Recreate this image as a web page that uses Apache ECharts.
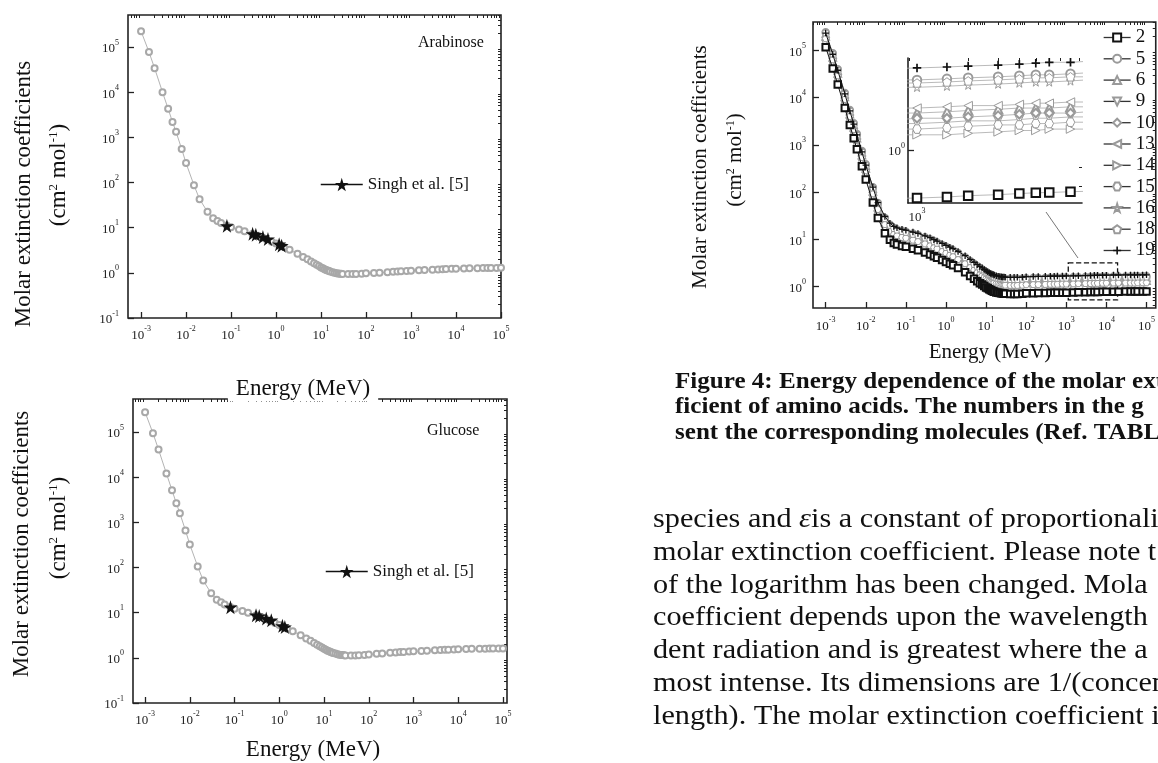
<!DOCTYPE html>
<html><head><meta charset="utf-8">
<script src="https://cdn.jsdelivr.net/npm/echarts@6/dist/echarts.min.js"></script>
<style>html,body{margin:0;padding:0;background:#fff}#c{width:1158px;height:763px}</style>
</head><body><div id="c"></div>
<script>
// ---------------- DATA ----------------
const energies = [0.001,0.0015,0.002,0.003,0.004,0.005,0.006,0.008,
  0.01,0.015,0.02,0.03,0.04,0.05,0.06,0.08,
  0.1,0.15,0.2,0.3,0.4,0.5,0.6,0.8,
  1,1.25,1.5,2,3,4,5,6,7,8,9,
  10,11,12,13,14,15,16,18,20,22,24,26,28,30,40,50,60,80,
  100,150,200,300,400,500,600,800,
  1000,1500,2000,3000,4000,5000,6000,8000,
  10000,15000,20000,30000,40000,50000,60000,80000,
  100000];

const arabinose = [224000,77600,33900,10000,4270,2190,1320,550,
  269,87.1,42.7,22.4,16.2,14.1,12.6,11.2,
  10.2,9.12,8.32,7.24,6.61,6.03,5.62,4.90,
  4.47,4.07,3.72,3.24,2.63,2.24,2.00,1.78,1.62,1.51,1.41,
  1.32,1.26,1.20,1.16,1.12,1.10,1.07,1.035,1.00,0.977,0.966,0.955,0.948,0.944,0.938,0.940,0.946,0.959,
  0.973,0.995,1.01,1.035,1.05,1.07,1.08,1.10,
  1.11,1.135,1.15,1.175,1.19,1.20,1.21,1.225,
  1.235,1.25,1.26,1.27,1.275,1.28,1.28,1.285,
  1.29];

const glucose = [275000,94000,40700,12000,5120,2630,1580,660,
  323,105,51.2,26.9,19.4,16.9,15.1,13.4,
  12.2,10.9,9.98,8.69,7.93,7.24,6.74,5.88,
  5.36,4.88,4.46,3.89,3.16,2.69,2.40,2.14,1.94,1.81,1.69,
  1.58,1.51,1.44,1.39,1.34,1.32,1.28,1.24,1.20,1.17,1.16,1.15,1.14,1.13,1.13,1.13,1.14,1.15,
  1.19,1.23,1.25,1.29,1.31,1.34,1.35,1.38,
  1.39,1.42,1.44,1.47,1.49,1.50,1.51,1.53,
  1.54,1.56,1.58,1.59,1.59,1.60,1.60,1.61,
  1.61];

const singhEnergies = [0.081,0.302,0.356,0.511,0.662,1.173,1.332];
const singhArabinose = [11.0,7.3,7.0,6.2,5.6,4.3,4.0];
const singhGlucose = [13.2,8.8,8.4,7.4,6.8,5.1,4.8];

const aminoNames = ['2','5','6','9','10','13','14','15','16','18','19'];

const amino02 = [117000,41700,19100,6030,2630,1380,813,355,
  186,60.3,28.2,13.5,9.77,8.32,7.76,7.24,
  6.92,6.31,5.89,5.25,4.79,4.37,4.07,3.63,
  3.31,3.02,2.82,2.45,2.00,1.66,1.45,1.29,1.17,1.10,1.02,
  0.955,0.912,0.871,0.841,0.813,0.794,0.776,0.750,0.733,0.724,0.716,0.708,0.703,0.700,0.692,0.692,0.695,0.700,
  0.716,0.721,0.724,0.729,0.733,0.735,0.736,0.740,
  0.741,0.746,0.752,0.757,0.762,0.766,0.767,0.771,
  0.773,0.776,0.778,0.780,0.782,0.782,0.783,0.783,
  0.785];
const amino05 = [245000,87200,39900,12600,5500,2880,1700,742,
  389,126,58.9,28.2,20.4,17.4,16.2,15.1,
  14.5,13.2,12.3,11.0,10.0,9.13,8.51,7.59,
  6.92,6.31,5.89,5.12,4.18,3.47,3.03,2.70,2.45,2.30,2.13,
  2.00,1.91,1.82,1.76,1.70,1.66,1.62,1.57,1.53,1.51,1.50,1.48,1.47,1.46,1.45,1.45,1.45,1.46,
  1.50,1.51,1.51,1.52,1.53,1.54,1.54,1.55,
  1.55,1.56,1.57,1.58,1.59,1.60,1.60,1.61,
  1.62,1.62,1.63,1.63,1.63,1.63,1.64,1.64,
  1.64];
const amino06 = [199000,70900,32500,10300,4470,2350,1380,604,
  316,103,47.9,23.0,16.6,14.1,13.2,12.3,
  11.8,10.7,10.0,8.93,8.14,7.43,6.92,6.17,
  5.63,5.13,4.79,4.17,3.40,2.82,2.47,2.19,1.99,1.87,1.73,
  1.62,1.55,1.48,1.43,1.38,1.35,1.32,1.28,1.25,1.23,1.22,1.20,1.20,1.19,1.18,1.18,1.18,1.19,
  1.22,1.23,1.23,1.24,1.25,1.25,1.25,1.26,
  1.26,1.27,1.28,1.29,1.30,1.30,1.30,1.31,
  1.31,1.32,1.32,1.33,1.33,1.33,1.33,1.33,
  1.33];
const amino09 = [186000,66300,30400,9590,4180,2190,1290,564,
  296,95.9,44.8,21.5,15.5,13.2,12.3,11.5,
  11.0,10.0,9.37,8.35,7.62,6.95,6.47,5.77,
  5.26,4.80,4.48,3.90,3.18,2.64,2.31,2.05,1.86,1.75,1.62,
  1.52,1.45,1.38,1.34,1.29,1.26,1.23,1.19,1.17,1.15,1.14,1.13,1.12,1.11,1.10,1.10,1.11,1.11,
  1.14,1.15,1.15,1.16,1.17,1.17,1.17,1.18,
  1.18,1.19,1.20,1.20,1.21,1.22,1.22,1.23,
  1.23,1.23,1.24,1.24,1.24,1.24,1.24,1.24,
  1.25];
const amino10 = [192000,68400,31300,9890,4310,2260,1330,582,
  305,98.9,46.2,22.1,16.0,13.6,12.7,11.9,
  11.3,10.3,9.66,8.61,7.86,7.17,6.67,5.95,
  5.43,4.95,4.62,4.02,3.28,2.72,2.38,2.12,1.92,1.80,1.67,
  1.57,1.50,1.43,1.38,1.33,1.30,1.27,1.23,1.20,1.19,1.17,1.16,1.15,1.15,1.13,1.13,1.14,1.15,
  1.17,1.18,1.19,1.20,1.20,1.21,1.21,1.21,
  1.22,1.22,1.23,1.24,1.25,1.26,1.26,1.26,
  1.27,1.27,1.28,1.28,1.28,1.28,1.28,1.28,
  1.29];
const amino13 = [205000,73000,33400,10600,4600,2420,1420,621,
  326,106,49.4,23.6,17.1,14.6,13.6,12.7,
  12.1,11.0,10.3,9.19,8.38,7.65,7.12,6.35,
  5.79,5.29,4.94,4.29,3.50,2.91,2.54,2.26,2.05,1.93,1.79,
  1.67,1.60,1.52,1.47,1.42,1.39,1.36,1.31,1.28,1.27,1.25,1.24,1.23,1.23,1.21,1.21,1.22,1.23,
  1.25,1.26,1.27,1.28,1.28,1.29,1.29,1.30,
  1.30,1.31,1.32,1.32,1.33,1.34,1.34,1.35,
  1.35,1.36,1.36,1.37,1.37,1.37,1.37,1.37,
  1.37];
const amino14 = [173000,61700,28300,8920,3890,2040,1200,525,
  275,89.2,41.7,20.0,14.5,12.3,11.5,10.7,
  10.2,9.34,8.72,7.77,7.09,6.47,6.02,5.37,
  4.90,4.47,4.17,3.63,2.96,2.46,2.15,1.91,1.73,1.63,1.51,
  1.41,1.35,1.29,1.24,1.20,1.18,1.15,1.11,1.08,1.07,1.06,1.05,1.04,1.04,1.02,1.02,1.03,1.04,
  1.06,1.07,1.07,1.08,1.08,1.09,1.09,1.10,
  1.10,1.10,1.11,1.12,1.13,1.13,1.14,1.14,
  1.14,1.15,1.15,1.15,1.16,1.16,1.16,1.16,
  1.16];
const amino15 = [180000,64200,29400,9290,4050,2130,1250,547,
  286,92.9,43.4,20.8,15.0,12.8,12.0,11.1,
  10.7,9.72,9.07,8.09,7.38,6.73,6.27,5.59,
  5.10,4.65,4.34,3.77,3.08,2.56,2.23,1.99,1.80,1.69,1.57,
  1.47,1.40,1.34,1.30,1.25,1.22,1.20,1.16,1.13,1.11,1.10,1.09,1.08,1.08,1.07,1.07,1.07,1.08,
  1.10,1.11,1.11,1.12,1.13,1.13,1.13,1.14,
  1.14,1.15,1.16,1.17,1.17,1.18,1.18,1.19,
  1.19,1.20,1.20,1.20,1.20,1.20,1.21,1.21,
  1.21];
const amino16 = [234000,83400,38200,12100,5260,2760,1630,710,
  372,121,56.4,27.0,19.5,16.6,15.5,14.5,
  13.8,12.6,11.8,10.5,9.58,8.74,8.14,7.26,
  6.62,6.04,5.64,4.90,4.00,3.32,2.90,2.58,2.34,2.20,2.04,
  1.91,1.82,1.74,1.68,1.63,1.59,1.55,1.50,1.47,1.45,1.43,1.42,1.41,1.40,1.38,1.38,1.39,1.40,
  1.43,1.44,1.45,1.46,1.47,1.47,1.47,1.48,
  1.48,1.49,1.50,1.51,1.52,1.53,1.53,1.54,
  1.55,1.55,1.56,1.56,1.56,1.56,1.57,1.57,
  1.57];
const amino18 = [240000,85500,39200,12400,5390,2830,1670,728,
  381,124,57.8,27.7,20.0,17.1,15.9,14.8,
  14.2,12.9,12.1,10.8,9.82,8.96,8.34,7.44,
  6.79,6.19,5.78,5.02,4.10,3.40,2.97,2.64,2.40,2.26,2.09,
  1.96,1.87,1.79,1.72,1.67,1.63,1.59,1.54,1.50,1.48,1.47,1.45,1.44,1.44,1.42,1.42,1.42,1.44,
  1.47,1.48,1.48,1.49,1.50,1.51,1.51,1.52,
  1.52,1.53,1.54,1.55,1.56,1.57,1.57,1.58,
  1.58,1.59,1.59,1.60,1.60,1.60,1.61,1.61,
  1.61];
const amino19 = [234000,83400,38200,12100,5260,2760,1630,710,
  372,128,59.8,30.4,22.0,18.7,17.5,16.3,
  15.6,14.2,13.3,11.8,10.8,9.83,9.16,8.17,
  7.45,6.80,6.35,5.51,4.50,3.74,3.26,2.90,2.63,2.48,2.30,
  2.15,2.05,1.96,1.89,1.83,1.79,1.75,1.69,1.65,1.63,1.61,1.59,1.58,1.575,1.56,1.56,1.56,1.575,
  1.61,1.62,1.63,1.64,1.65,1.65,1.66,1.665,
  1.67,1.68,1.69,1.70,1.71,1.72,1.73,1.73,
  1.74,1.75,1.75,1.755,1.76,1.76,1.76,1.76,
  1.77];
const aminoValues = [amino02,amino05,amino06,amino09,amino10,amino13,amino14,amino15,amino16,amino18,amino19];

// tick labels (powers of ten)
const xTickValues = [0.001,0.01,0.1,1,10,100,1000,10000,100000];
const yTickValuesLeft = [0.1,1,10,100,1000,10000,100000];
const yTickValuesRight = [1,10,100,1000,10000,100000];
const insetXTickValues = [1000];
const insetYTickValues = [1];

// ---------------- HELPERS ----------------
const SERIF = 'Liberation Serif';
function minorTicks(lo, hi, min, max) {
  const out = [];
  for (let n = lo; n <= hi; n++) for (let k = 2; k <= 9; k++) {
    const v = +(k * Math.pow(10, n)).toPrecision(3);
    if (v > min && v < max) out.push(v);
  }
  return out;
}
const labelRich = {
  b: {fontFamily: SERIF, fontSize: 13, color: '#222', lineHeight: 17, verticalAlign: 'bottom'},
  e: {fontFamily: SERIF, fontSize: 8, color: '#222', lineHeight: 17, verticalAlign: 'top'}
};
function powLabel(v) { return '{b|10}{e|' + Math.round(Math.log10(v)) + '}'; }

function axisPair(dim, gridIndex, min, max, majors, opts) {
  opts = opts || {};
  const base = {type: 'log', logBase: 10, gridIndex, min, max, splitLine: {show: false}};
  const major = Object.assign({}, base, {
    axisLine: opts.line ? {show: true, lineStyle: {color: '#222', width: 1.6}} : {show: false},
    axisTick: {show: true, inside: true, length: 6, customValues: majors, lineStyle: {color: '#222', width: 1.3}},
    axisLabel: {show: true, customValues: majors, formatter: powLabel, rich: labelRich, margin: opts.margin || 8}
  });
  const minor = Object.assign({}, base, {
    axisLine: {show: false},
    axisTick: {show: true, inside: true, length: 3, customValues: minorTicks(-5, 5, min, max), lineStyle: {color: '#222', width: 1}},
    axisLabel: {show: false}
  });
  return [major, minor];
}

const xAxes = [], yAxes = [];
// grid 0: Arabinose
xAxes.push(...axisPair('x', 0, 5.13e-4, 1e5, xTickValues, {margin: 7}));
yAxes.push(...axisPair('y', 0, 0.1, 5.1e5, yTickValuesLeft, {margin: 9}));
// grid 1: Glucose
xAxes.push(...axisPair('x', 1, 5.37e-4, 1.23e5, xTickValues, {margin: 7}));
yAxes.push(...axisPair('y', 1, 0.1, 5.37e5, yTickValuesLeft, {margin: 9}));
// grid 2: amino acids
xAxes.push(...axisPair('x', 2, 4.83e-4, 1.7e5, xTickValues, {margin: 8}));
yAxes.push(...axisPair('y', 2, 0.35, 4.02e5, yTickValuesRight, {margin: 7}));
// grid 3: inset
xAxes.push(...axisPair('x', 3, 885, 9350, insetXTickValues, {margin: 4, line: true}));
yAxes.push(...axisPair('y', 3, 0.7185, 1.777, insetYTickValues, {margin: 3, line: true}));

const boxBorder = {show: true, borderColor: '#222', borderWidth: 1.6, backgroundColor: 'transparent'};
const grids = [
  Object.assign({left: 128, top: 15, width: 373, height: 303}, boxBorder),
  Object.assign({left: 133, top: 399, width: 374, height: 304}, boxBorder),
  Object.assign({left: 813, top: 22, width: 352, height: 286}, boxBorder),
  {left: 908, top: 58, width: 174, height: 145, show: false}
];

const STAR = 'path://M50,0L61,35L98,35L68,57L79,91L50,70L21,91L32,57L2,35L39,35Z';
const GRAY = '#9a9a9a';
const aminoSymbols = [
  {symbol: 'emptyRect', color: '#111', z: 4},
  {symbol: 'emptyCircle', color: GRAY},
  {symbol: 'emptyTriangle', color: GRAY},
  {symbol: 'path://M0,0L10,0L5,9Z', color: GRAY, hollow: true},
  {symbol: 'emptyDiamond', color: GRAY},
  {symbol: 'path://M0,5L9,0L9,10Z', color: GRAY, hollow: true},
  {symbol: 'path://M10,5L1,0L1,10Z', color: GRAY, hollow: true},
  {symbol: 'path://M2.5,0L7.5,0L10,5L7.5,10L2.5,10L0,5Z', color: GRAY, hollow: true},
  {symbol: STAR, color: GRAY, hollow: true},
  {symbol: 'path://M5,0L10,3.8L8.1,10L1.9,10L0,3.8Z', color: GRAY, hollow: true},
  {symbol: 'path://M4,0H6V4H10V6H6V10H4V6H0V4H4Z', color: '#111', z: 5}
];

function pairs(xs, ys) { return xs.map((x, i) => [x, ys[i]]); }

const series = [];
// left charts
[[arabinose, singhArabinose, 0, 'Arabinose'], [glucose, singhGlucose, 1, 'Glucose']].forEach(([vals, singh, g, nm]) => {
  series.push({
    name: nm, type: 'line', xAxisIndex: 2 * g, yAxisIndex: 2 * g,
    data: pairs(energies, vals), symbol: 'emptyCircle', symbolSize: 6,
    itemStyle: {color: '#a8a8a8', borderWidth: 0.9},
    lineStyle: {color: '#b4b4b4', width: 1}, z: 2
  });
  series.push({
    name: 'Singh et al. [5]', type: 'line', xAxisIndex: 2 * g, yAxisIndex: 2 * g,
    data: pairs(singhEnergies, singh), symbol: STAR, symbolSize: 14,
    itemStyle: {color: '#111'}, lineStyle: {opacity: 0, width: 0}, z: 5
  });
});
// right chart + inset
aminoNames.forEach((nm, i) => {
  const s = aminoSymbols[i];
  const itemStyle = s.hollow ? {color: '#fff', borderColor: s.color, borderWidth: 1} : {color: s.color, borderWidth: 1};
  const lineColor = s.color === GRAY ? '#b0b0b0' : '#111';
  series.push({
    name: nm, type: 'line', xAxisIndex: 4, yAxisIndex: 4,
    data: pairs(energies, aminoValues[i]), symbol: s.symbol, symbolSize: 6.5,
    itemStyle, lineStyle: {color: lineColor, width: 1}, z: s.z || 2,
    markArea: nm === '2' ? {silent: true, itemStyle: {color: 'rgba(0,0,0,0)', borderColor: '#111', borderWidth: 1.3, borderType: 'dashed'},
      data: [[{coord: [1120, 3.16]}, {coord: [19000, 0.52]}]]} : undefined
  });
  series.push({
    name: nm, type: 'line', xAxisIndex: 6, yAxisIndex: 6,
    data: pairs(energies, aminoValues[i]), symbol: s.symbol, symbolSize: 8.5,
    itemStyle, lineStyle: {color: '#a8a8a8', width: 0.8}, z: s.z || 2
  });
});

const legendText = {fontFamily: SERIF, color: '#111'};
const legends = [
  {data: ['Singh et al. [5]'], left: 320, top: 176, padding: 0, itemWidth: 42, itemHeight: 17, itemGap: 0,
   textStyle: Object.assign({fontSize: 17}, legendText), lineStyle: {color: '#111', width: 1.5, opacity: 1}},
  {data: ['Singh et al. [5]'], left: 325, top: 563, padding: 0, itemWidth: 42, itemHeight: 17, itemGap: 0,
   textStyle: Object.assign({fontSize: 17}, legendText), lineStyle: {color: '#111', width: 1.5, opacity: 1}},
  {data: aminoNames, orient: 'vertical', left: 1103, top: 28, padding: 0, itemWidth: 27, itemHeight: 10, itemGap: 2.3,
   textStyle: Object.assign({fontSize: 19, lineHeight: 19}, legendText), lineStyle: {width: 1.3, color: '#333', opacity: 1}}
];

// ---------------- TEXT ----------------
function T(x, y, text, size, extra) {
  return Object.assign({type: 'text', x, y, z: 100, style: Object.assign({text, fontFamily: SERIF, fontSize: size, fill: '#111',
    align: 'center', verticalAlign: 'middle'}, (extra && extra.style) || {})}, (extra && extra.el) || {});
}
const unitRich = (s) => ({s: {fontFamily: SERIF, fontSize: s, fill: '#111', verticalAlign: 'top'}});
const graphics = [
  T(418, 43, 'Arabinose', 16, {style: {align: 'left'}}),
  T(427, 431, 'Glucose', 16, {style: {align: 'left'}}),
  // y titles
  T(24, 194, 'Molar extinction coefficients', 23, {el: {rotation: Math.PI / 2}}),
  T(59, 175, '(cm{s|2} mol{s|-1})', 23, {el: {rotation: Math.PI / 2}, style: {rich: unitRich(13)}}),
  T(22, 544, 'Molar extinction coefficients', 23, {el: {rotation: Math.PI / 2}}),
  T(59, 528, '(cm{s|2} mol{s|-1})', 23, {el: {rotation: Math.PI / 2}, style: {rich: unitRich(13)}}),
  T(700, 167, 'Molar extinction coefficients', 21, {el: {rotation: Math.PI / 2}}),
  T(735, 160, '(cm{s|2} mol{s|-1})', 21, {el: {rotation: Math.PI / 2}, style: {rich: unitRich(12)}}),
  // x titles
  T(303, 389, 'Energy (MeV)', 23, {style: {backgroundColor: '#fff', padding: [1, 8]}}),
  T(313, 750, 'Energy (MeV)', 23),
  T(990, 352, 'Energy (MeV)', 21),
  // arrow
  {type: 'line', z: 50, shape: {x1: 1046, y1: 212, x2: 1078, y2: 258}, style: {stroke: '#777', lineWidth: 1}},
];
const captionLines = ['Figure 4: Energy dependence of the molar ext',
  'ficient of amino acids. The numbers in the g',
  'sent the corresponding molecules (Ref. TABL'];
captionLines.forEach((t, i) => graphics.push(T(0, 0, t, 23, {el: {x: 675, y: 382 + i * 25.5, scaleX: 1.09},
  style: {align: 'left', fontWeight: 'bold', x: 0, y: 0}})));
const bodyLines = ['species and {i|ε}is a constant of proportionali',
  'molar extinction coefficient. Please note t',
  'of the logarithm has been changed. Mola',
  'coefficient depends upon the wavelength',
  'dent radiation and is greatest where the a',
  'most intense. Its dimensions are 1/(concen',
  'length). The molar extinction coefficient i'];
bodyLines.forEach((t, i) => graphics.push(T(0, 0, t, 28, {el: {x: 653, y: 520 + i * 32.7, scaleX: 1.08},
  style: {align: 'left', x: 0, y: 0, rich: {i: {fontFamily: SERIF, fontSize: 28, fontStyle: 'italic', fill: '#111'}}}})));

const chart = echarts.init(document.getElementById('c'), null, {renderer: 'canvas'});
chart.setOption({
  animation: false,
  backgroundColor: '#fff',
  grid: grids,
  xAxis: xAxes,
  yAxis: yAxes,
  legend: legends,
  series,
  graphic: graphics
});
</script>
</body></html>
